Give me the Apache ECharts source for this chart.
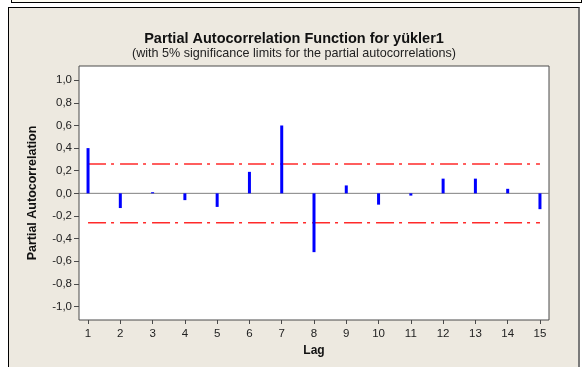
<!DOCTYPE html>
<html><head><meta charset="utf-8">
<script src="https://cdn.jsdelivr.net/npm/echarts@6/dist/echarts.min.js"></script>
<style>
html,body{margin:0;padding:0;background:#fff;width:588px;height:367px;overflow:hidden;position:relative;}
#strip{position:absolute;left:11px;top:-5px;width:569px;height:6px;border:1px solid #000;background:#FDFCF3;}
#panel{position:absolute;left:8px;top:7px;width:572px;height:370px;background:#EDE9E0;border-left:1px solid #000;border-top:1px solid #000;border-right:2px solid #7a7a7a;box-sizing:border-box;}
#c{position:absolute;left:0;top:0;width:588px;height:367px;}
</style></head>
<body>
<div id="strip"></div>
<div id="panel"></div>
<div id="c"></div>
<script>
const lags = [1,2,3,4,5,6,7,8,9,10,11,12,13,14,15];
const pacf = [0.40,-0.13,0.01,-0.06,-0.12,0.19,0.60,-0.52,0.07,-0.10,-0.02,0.13,0.13,0.04,-0.14];
const sigLimit = 0.26;
const yTicks = [-1.0,-0.8,-0.6,-0.4,-0.2,0.0,0.2,0.4,0.6,0.8,1.0];
const xTicks = [1,2,3,4,5,6,7,8,9,10,11,12,13,14,15];
const titleText = 'Partial Autocorrelation Function for yükler1';
const subText = '(with 5% significance limits for the partial autocorrelations)';

const chart = echarts.init(document.getElementById('c'), null, {renderer:'canvas'});
const ff = 'Liberation Sans, Arial, sans-serif';
chart.setOption({
  backgroundColor: 'transparent',
  animation: false,
  title: {
    text: titleText, subtext: subText, left: 'center', top: 26, itemGap: 1,
    textStyle: {fontFamily: ff, fontSize: 14.5, fontWeight: 'bold', color: '#111'},
    subtextStyle: {fontFamily: ff, fontSize: 12.6, color: '#222'}
  },
  grid: {left: 79, right: 39, top: 66, bottom: 47, show: true, backgroundColor: '#fff', borderColor: '#4a4a4a', borderWidth: 1},
  xAxis: {
    type: 'value', min: 0.72, max: 15.28,
    name: 'Lag', nameLocation: 'middle', nameGap: 25,
    nameTextStyle: {fontFamily: ff, fontSize: 12, fontWeight: 'bold', color: '#111'},
    axisLine: {show: false, onZero: false},
    splitLine: {show: false},
    axisTick: {show: true, length: 4, customValues: xTicks, lineStyle: {color: '#4a4a4a'}},
    axisLabel: {customValues: xTicks, fontFamily: ff, fontSize: 11.5, color: '#222', margin: 8}
  },
  yAxis: {
    type: 'value', min: -1.12, max: 1.126,
    name: 'Partial Autocorrelation', nameLocation: 'middle', nameGap: 40,
    nameTextStyle: {fontFamily: ff, fontSize: 12.5, fontWeight: 'bold', color: '#111'},
    axisLine: {show: false, onZero: false},
    splitLine: {show: false},
    axisTick: {show: true, length: 5, customValues: yTicks, lineStyle: {color: '#4a4a4a'}},
    axisLabel: {customValues: yTicks, fontFamily: ff, fontSize: 11.5, color: '#222', margin: 7,
      formatter: v => v.toFixed(1).replace('.', ',')}
  },
  series: [
    {type: 'line', data: [[0.72,0],[15.28,0]], symbol: 'none', silent: true,
     lineStyle: {color: '#808080', width: 1}, z: 1},
    {type: 'line', data: [[lags[0], sigLimit],[lags[lags.length-1], sigLimit]], symbol: 'none', silent: true,
     lineStyle: {color: '#ff2a2a', width: 1.5, type: [18,5,3,6]}, z: 2},
    {type: 'line', data: [[lags[0], -sigLimit],[lags[lags.length-1], -sigLimit]], symbol: 'none', silent: true,
     lineStyle: {color: '#ff2a2a', width: 1.5, type: [18,5,3,6]}, z: 2},
    {type: 'bar', data: lags.map((l,i)=>[l,pacf[i]]), barWidth: 3,
     itemStyle: {color: '#0000ff'}, z: 3}
  ]
});
</script>
</body></html>
